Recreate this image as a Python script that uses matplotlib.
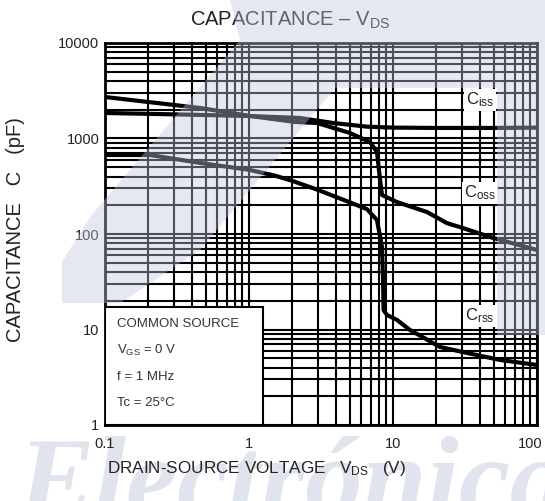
import matplotlib
matplotlib.use('Agg')
import matplotlib.pyplot as plt
import matplotlib.transforms as mtransforms
from matplotlib.patches import Polygon

plt.rcParams['font.family'] = ['Liberation Sans', 'DejaVu Sans']
plt.rcParams['mathtext.fontset'] = 'custom'
plt.rcParams['mathtext.rm'] = 'Liberation Sans'
plt.rcParams['mathtext.it'] = 'Liberation Sans:italic'

# data
ciss_v = [0.1, 0.3, 1.0, 2.26, 3.83, 6.6, 10, 20, 50, 100]
ciss_c = [1850, 1790, 1720, 1640, 1454, 1330, 1300, 1290, 1290, 1300]

coss_v = [0.1, 0.46, 1.02, 2.09, 2.97, 5.02, 6.92, 7.74, 8.13, 8.39, 10.66, 17.2, 23.7, 29.2, 49.5, 100]
coss_c = [2720, 2085, 1720, 1490, 1454, 1142, 919, 722, 368, 256, 216, 170, 130, 118, 91, 68]

crss_v = [0.1, 0.205, 0.46, 1.0, 1.5, 2.0, 3.0, 5.0, 6.6, 7.74, 8.39, 8.53, 8.6, 9.08, 10.66, 13.1, 21.2, 32.7, 55.3, 100]
crss_c = [672, 672, 554, 470, 410, 360, 290, 215, 182, 140, 73, 33, 16, 14.2, 12.6, 9.9, 6.56, 5.68, 4.80, 4.25]

x_ticks = [0.1, 1, 10, 100]
x_ticklabels = ['0.1', '1', '10', '100']
y_ticks = [1, 10, 100, 1000, 10000]
y_ticklabels = ['1', '10', '100', '1000', '10000']

conditions = ['COMMON SOURCE', r'V$_{\mathregular{GS}}$ = 0 V', 'f = 1 MHz', 'Tc = 25°C']

W, H = 545, 501
fig = plt.figure(figsize=(W / 100, H / 100), dpi=100)

# faint watermark letters behind everything
fig.text(18 / W, 1 - 516 / H, 'Electrónica', fontsize=83, family='Liberation Serif',
         style='italic', weight='bold', color='#e0e4ed', ha='left', va='baseline', zorder=-1)

ax = fig.add_axes([105 / W, 1 - 425 / H, 432 / W, 382 / H])

ax.set_xscale('log')
ax.set_yscale('log')
ax.set_xlim(0.1, 100)
ax.set_ylim(1, 10000)

ax.grid(True, which='both', color='black', linewidth=1.5)
ax.set_axisbelow(True)
for s in ax.spines.values():
    s.set_linewidth(2)

ax.set_xticks(x_ticks)
ax.set_xticklabels(x_ticklabels)
ax.set_yticks(y_ticks)
ax.set_yticklabels(y_ticklabels)
ax.tick_params(which='both', length=0)
ax.tick_params(axis='x', pad=9, labelsize=10.5, colors='#222222')
ax.tick_params(axis='y', pad=4, labelsize=10.5, colors='#222222')
# last x label sits a bit to the left, like the reference
last = ax.get_xticklabels()[-1]
last.set_transform(last.get_transform() + mtransforms.ScaledTranslation(-7 / 100, 0, fig.dpi_scale_trans))

for v, c in [(ciss_v, ciss_c), (coss_v, coss_c), (crss_v, crss_c)]:
    ax.plot(v, c, color='black', linewidth=3, solid_capstyle='butt', zorder=3)

# curve labels
lab_box = dict(boxstyle='square,pad=0.12', facecolor='white', edgecolor='none')
for name, yf in [('iss', 0.851), ('oss', 0.607), ('rss', 0.285)]:
    ax.text(0.868, yf, r'C$_{\mathregular{%s}}$' % name, transform=ax.transAxes, fontsize=12,
            color='#222222', ha='center', va='center', bbox=lab_box, zorder=4)

# conditions box
box = plt.Rectangle((0, 0), (263 - 105) / 432, (425 - 307) / 382, transform=ax.transAxes,
                    facecolor='white', edgecolor='black', linewidth=1.5, zorder=5)
ax.add_patch(box)
for i, t in enumerate(conditions):
    ax.text(12 / 432, (425 - 324 - i * 26.3) / 382, t, transform=ax.transAxes,
            fontsize=9.5, color='#333333', ha='left', va='center', zorder=6)

fig.text(290 / W, 1 - 20 / H, r'CAPACITANCE – V$_{\mathregular{DS}}$', fontsize=14.5,
         color='#222222', ha='center', va='center')
fig.text(256 / W, 1 - 468 / H, r'DRAIN-SOURCE VOLTAGE   V$_{\mathregular{DS}}$   (V)', fontsize=12.3,
         color='#222222', ha='center', va='center')
fig.text(16 / W, 1 - 230 / H, 'CAPACITANCE   C   (pF)', fontsize=14.5, color='#222222',
         ha='center', va='center', rotation=90)

# translucent watermark shape lying over the chart (pixel outline, y from top)
wm = [(230, 0), (545, 0), (545, 335), (497, 335), (497, 88), (335, 88), (250, 190),
      (200, 250), (120, 303), (62, 303), (62, 262), (90, 217), (240, 40)]
fig.add_artist(Polygon([(px / W, 1 - py / H) for px, py in wm], closed=True,
                       transform=fig.transFigure, facecolor='#bec6da', edgecolor='none',
                       alpha=0.4, zorder=10))

fig.savefig('out.png', dpi=100, facecolor='white')
